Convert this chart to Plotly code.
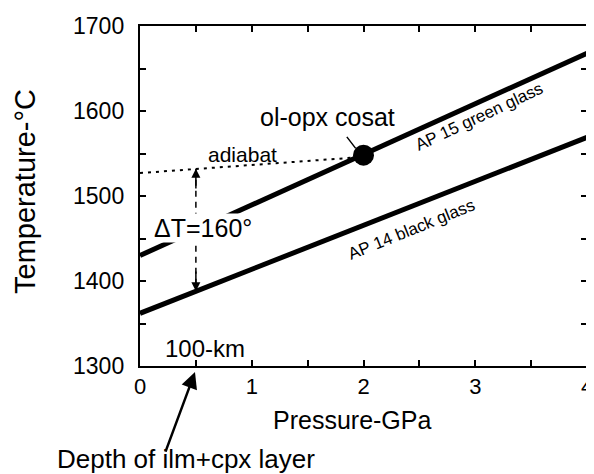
import plotly.graph_objects as go

# ---- data ----
pressure_ends = [0, 4]
green_glass_T = [1430, 1668]      # AP 15 green glass
black_glass_T = [1362, 1569]      # AP 14 black glass
adiabat_P = [0, 2]
adiabat_T = [1527, 1546]
cosat_P = [2]
cosat_T = [1548]
dT_P = 0.5
dT_top = 1532
dT_bottom = 1388

x_range = [0, 4]
y_range = [1300, 1700]
x_tickvals = [0, 0.5, 1, 1.5, 2, 2.5, 3, 3.5, 4]
x_ticktext = ["0", "", "1", "", "2", "", "3", "", "4"]
y_tickvals = [1300, 1350, 1400, 1450, 1500, 1550, 1600, 1650, 1700]
y_ticktext = ["1300", "", "1400", "", "1500", "", "1600", "", "1700"]

FONT = "Liberation Sans, Arial, Helvetica, sans-serif"
PAD = "\u2009\u2009"   # thin spaces to push y labels away from the axis

fig = go.Figure()

fig.add_trace(go.Scatter(x=pressure_ends, y=green_glass_T, mode="lines",
                         line=dict(color="black", width=5), showlegend=False))
fig.add_trace(go.Scatter(x=pressure_ends, y=black_glass_T, mode="lines",
                         line=dict(color="black", width=5), showlegend=False))
fig.add_trace(go.Scatter(x=adiabat_P, y=adiabat_T, mode="lines",
                         line=dict(color="black", width=2, dash="3px,5px"), showlegend=False))
fig.add_trace(go.Scatter(x=[dT_P, dT_P], y=[dT_top, dT_bottom], mode="lines",
                         line=dict(color="black", width=1.5, dash="6px,5px"), showlegend=False))
fig.add_trace(go.Scatter(x=cosat_P, y=cosat_T, mode="markers",
                         marker=dict(color="black", size=21), showlegend=False))

ann = []
ann.append(dict(x=dT_P, y=dT_top, ax=dT_P, ay=dT_top - 25, axref="x", ayref="y",
                showarrow=True, arrowhead=2, arrowsize=1.2, arrowwidth=1.5, text=""))
ann.append(dict(x=dT_P, y=dT_bottom, ax=dT_P, ay=dT_bottom + 25, axref="x", ayref="y",
                showarrow=True, arrowhead=2, arrowsize=1.2, arrowwidth=1.5, text=""))
ann.append(dict(x=0.56, y=1462, text="ΔT=160°", showarrow=False,
                font=dict(size=25), bgcolor="white", borderpad=0))
ann.append(dict(x=0.92, y=1549, text="adiabat", showarrow=False, font=dict(size=21)))
ann.append(dict(x=1.68, y=1593, text="ol-opx cosat", showarrow=False, font=dict(size=25)))
ann.append(dict(x=1.93, y=1556, ax=-10, ay=-13, text="", showarrow=True,
                arrowhead=0, arrowwidth=1.5))
ann.append(dict(x=3.04, y=1593, text="AP 15 green glass", showarrow=False,
                textangle=-25, font=dict(size=17)))
ann.append(dict(x=2.43, y=1461, text="AP 14 black glass", showarrow=False,
                textangle=-22, font=dict(size=17)))
ann.append(dict(x=0.58, y=1321, text="100-km", showarrow=False, font=dict(size=24)))
ann.append(dict(x=0.123, y=-0.018, xref="paper", yref="paper", ax=-30, ay=81, text="",
                showarrow=True, arrowhead=2, arrowsize=1.3, arrowwidth=2.5))
ann.append(dict(x=0.103, y=-0.2735, xref="paper", yref="paper", text="Depth of ilm+cpx layer",
                showarrow=False, xanchor="center", yanchor="middle", font=dict(size=26)))
ann.append(dict(x=0.474, y=-0.159, xref="paper", yref="paper", text="Pressure-GPa",
                showarrow=False, xanchor="center", yanchor="middle", font=dict(size=25)))
ann.append(dict(x=0, y=0.5, xref="paper", yref="paper", xshift=-115, yshift=4,
                text="Temperature-°C", textangle=-90, showarrow=False,
                xanchor="center", yanchor="middle", font=dict(size=29)))

for a in ann:
    a.setdefault("xref", "x")
    a.setdefault("yref", "y")
    a.setdefault("arrowcolor", "black")
    a.setdefault("font", {})
    a["font"].setdefault("color", "black")
fig.update_layout(annotations=ann)

axis_common = dict(showgrid=False, zeroline=False, showline=True, linecolor="black",
                   linewidth=2, mirror="ticks", ticks="inside", ticklen=6, tickwidth=1.5,
                   tickcolor="black")
fig.update_xaxes(range=x_range, tickmode="array", tickvals=x_tickvals, ticktext=x_ticktext,
                 tickfont=dict(size=22, color="black"), **axis_common)
fig.update_yaxes(range=y_range, tickmode="array", tickvals=y_tickvals,
                 ticktext=[t + PAD if t else t for t in y_ticktext],
                 tickfont=dict(size=23, color="black"), **axis_common)

fig.update_layout(template="none",
                  width=586, height=466, margin=dict(l=132, r=7, t=18, b=108),
                  plot_bgcolor="white", paper_bgcolor="white",
                  font=dict(family=FONT, color="black"), showlegend=False)

fig.write_html("out.html")
